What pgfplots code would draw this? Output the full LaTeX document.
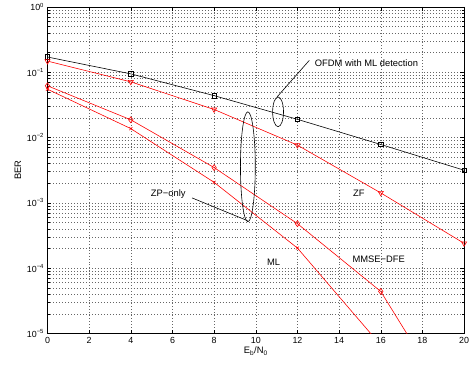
\documentclass[border=0pt]{standalone}
\usepackage{pgfplots}
\pgfplotsset{compat=1.18}
\usepackage{fontspec}
\setmainfont{Liberation Sans}
\begin{document}
\begin{tikzpicture}
\begin{axis}[
  scale only axis, width=421bp, height=330bp,
  ymode=log, xmin=0, xmax=20, ymin=1e-5, ymax=1,
  xtick={0,2,4,6,8,10,12,14,16,18,20},
  xticklabels={0,2,4,6,8,10,12,14,16,18,20},
  ytick={1e-5,1e-4,1e-3,1e-2,1e-1,1},
  yticklabels={10\textsuperscript{−5},10\textsuperscript{−4},10\textsuperscript{−3},10\textsuperscript{−2},10\textsuperscript{−1},10\textsuperscript{0}},
  grid=both,
  major grid style={black!60, line width=0.45bp, dash pattern=on 0.7bp off 2.3bp},
  minor grid style={black!60, line width=0.45bp, dash pattern=on 0.7bp off 2.3bp},
  tick align=inside, major tick length=4bp, minor tick length=2.5bp,
  axis line style={line width=0.8bp},
  every tick/.style={black, line width=0.5bp},
  tick label style={font=\fontsize{9}{10}\selectfont},
  label style={font=\fontsize{9.5}{11}\selectfont},
  xlabel={E\textsubscript{b}/N\textsubscript{0}},
  ylabel={BER},
  xlabel style={yshift=3bp},
  ylabel style={yshift=-1bp},
]
\addplot[black, line width=0.6bp, mark=square, mark size=2.3bp, mark options={solid}] coordinates {(0,0.171)(4,0.0944)(8,0.0438)(12,0.019)(16,0.00783)(20,0.00316)};
\addplot[red, line width=0.6bp, mark=triangle, mark size=3bp, mark options={solid, rotate=180}] coordinates {(0,0.148)(4,0.0713)(8,0.0269)(12,0.00765)(16,0.00142)(20,0.00024)};
\addplot[red, line width=0.6bp, mark=diamond, mark size=3bp, mark options={solid}] coordinates {(0,0.062)(4,0.0187)(8,0.00347)(12,4.8e-4)(16,4.4e-5)(20,3.8e-7)};
\addplot[red, line width=0.6bp, mark=x, mark size=2.2bp, mark options={solid}] coordinates {(0,0.055)(4,0.0137)(8,0.00206)(12,2.03e-4)(16,6.6e-6)};
% annotations
\draw[black, line width=0.6bp] (axis cs:11.07,0.02477) ellipse [x radius=5.5bp, y radius=15bp];
\draw[black, line width=0.6bp] (axis cs:11.02,0.0418) -- (axis cs:12.57,0.152);
\node[anchor=west, inner sep=0pt, font=\fontsize{9.5}{11}\selectfont] at (axis cs:12.83,0.137) {OFDM with ML detection};
\draw[black, line width=0.6bp] (axis cs:9.62,0.00357) ellipse [x radius=7.5bp, y radius=55.5bp];
\draw[black, line width=0.6bp] (axis cs:6.94,0.00119) -- (axis cs:9.6,5.34e-4);
\node[inner sep=0pt, font=\fontsize{9.5}{11}\selectfont] at (axis cs:5.8,0.00137) {ZP−only};
\node[inner sep=0pt, font=\fontsize{9.5}{11}\selectfont] at (axis cs:14.95,0.00142) {ZF};
\node[inner sep=0pt, font=\fontsize{9.5}{11}\selectfont] at (axis cs:10.86,1.23e-4) {ML};
\node[inner sep=0pt, font=\fontsize{9.5}{11}\selectfont] at (axis cs:15.9,1.35e-4) {MMSE−DFE};
\coordinate (bl) at (rel axis cs:0,0);
\coordinate (tr) at (rel axis cs:1,1);
\end{axis}
\pgfresetboundingbox
\path ([shift={(-48bp,-31bp)}]bl) rectangle ([shift={(7bp,7bp)}]tr);
\end{tikzpicture}
\end{document}
